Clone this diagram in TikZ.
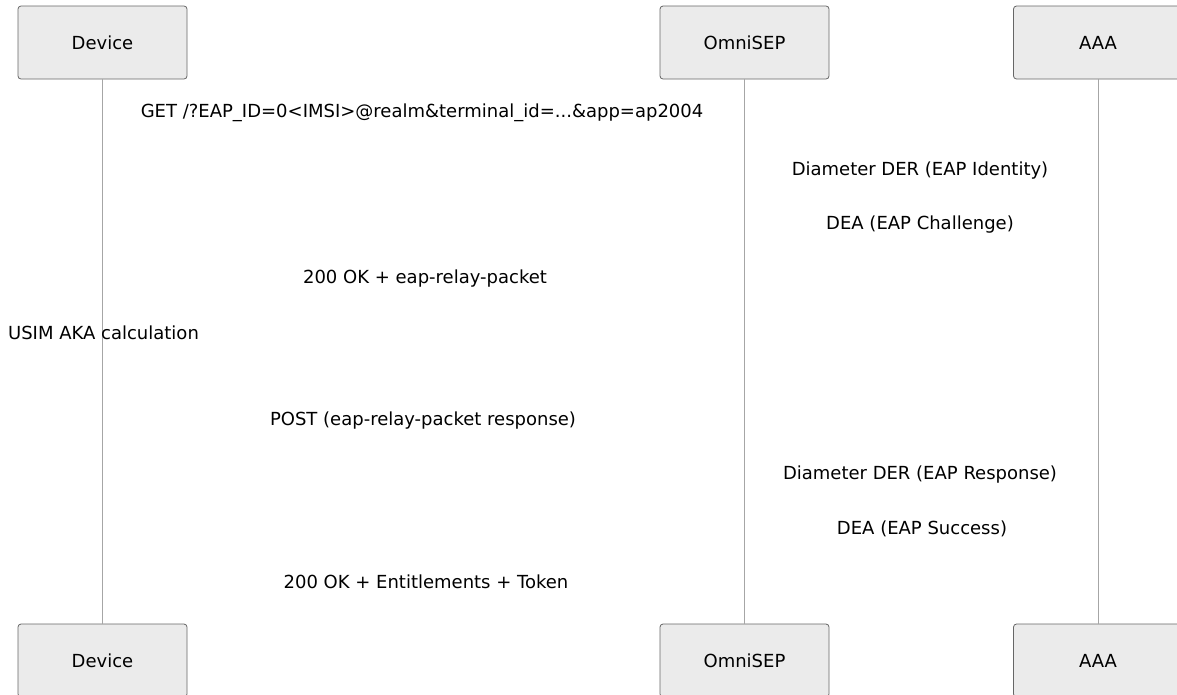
\documentclass[tikz,border=0pt]{standalone}
\usepackage{fontspec}
\setmainfont{DejaVu Sans}
\begin{document}
\begin{tikzpicture}[x=1pt,y=-1pt,
  actor/.style={draw=black!60, fill=black!8, rounded corners=3pt, line width=0.8pt,
    minimum width=169pt, minimum height=73pt, inner sep=0pt, font=\fontsize{18}{21}\selectfont},
  life/.style={draw=black!35, line width=1pt},
  msg/.style={font=\fontsize{18}{21}\selectfont, inner sep=0pt, anchor=center}]
\useasboundingbox (0,0) rectangle (1177,694);
% actors
\node[actor] (dt) at (102.5,42.5) {Device};
\node[actor] (ot) at (744.5,42.5) {OmniSEP};
\node[actor] (at) at (1098,42.5) {AAA};
\node[actor] (db) at (102.5,660.5) {Device};
\node[actor] (ob) at (744.5,660.5) {OmniSEP};
\node[actor] (ab) at (1098,660.5) {AAA};
% lifelines
\draw[life] (dt.south) -- (db.north);
\draw[life] (ot.south) -- (ob.north);
\draw[life] (at.south) -- (ab.north);
% messages
\node[msg] (m1) at (422,113) {GET /?EAP\_ID=0<IMSI>@realm\&terminal\_id=...\&app=ap2004};
\node[msg] (m2) at (920,171) {Diameter DER (EAP Identity)};
\node[msg] (m3) at (920,225) {DEA (EAP Challenge)};
\node[msg] (m4) at (425,279) {200 OK + eap-relay-packet};
\node[msg] (m5) at (103.5,333) {USIM AKA calculation};
\node[msg] (m6) at (423,421) {POST (eap-relay-packet response)};
\node[msg] (m7) at (920,475) {Diameter DER (EAP Response)};
\node[msg] (m8) at (922,529) {DEA (EAP Success)};
\node[msg] (m9) at (426,582) {200 OK + Entitlements + Token};
\end{tikzpicture}
\end{document}
